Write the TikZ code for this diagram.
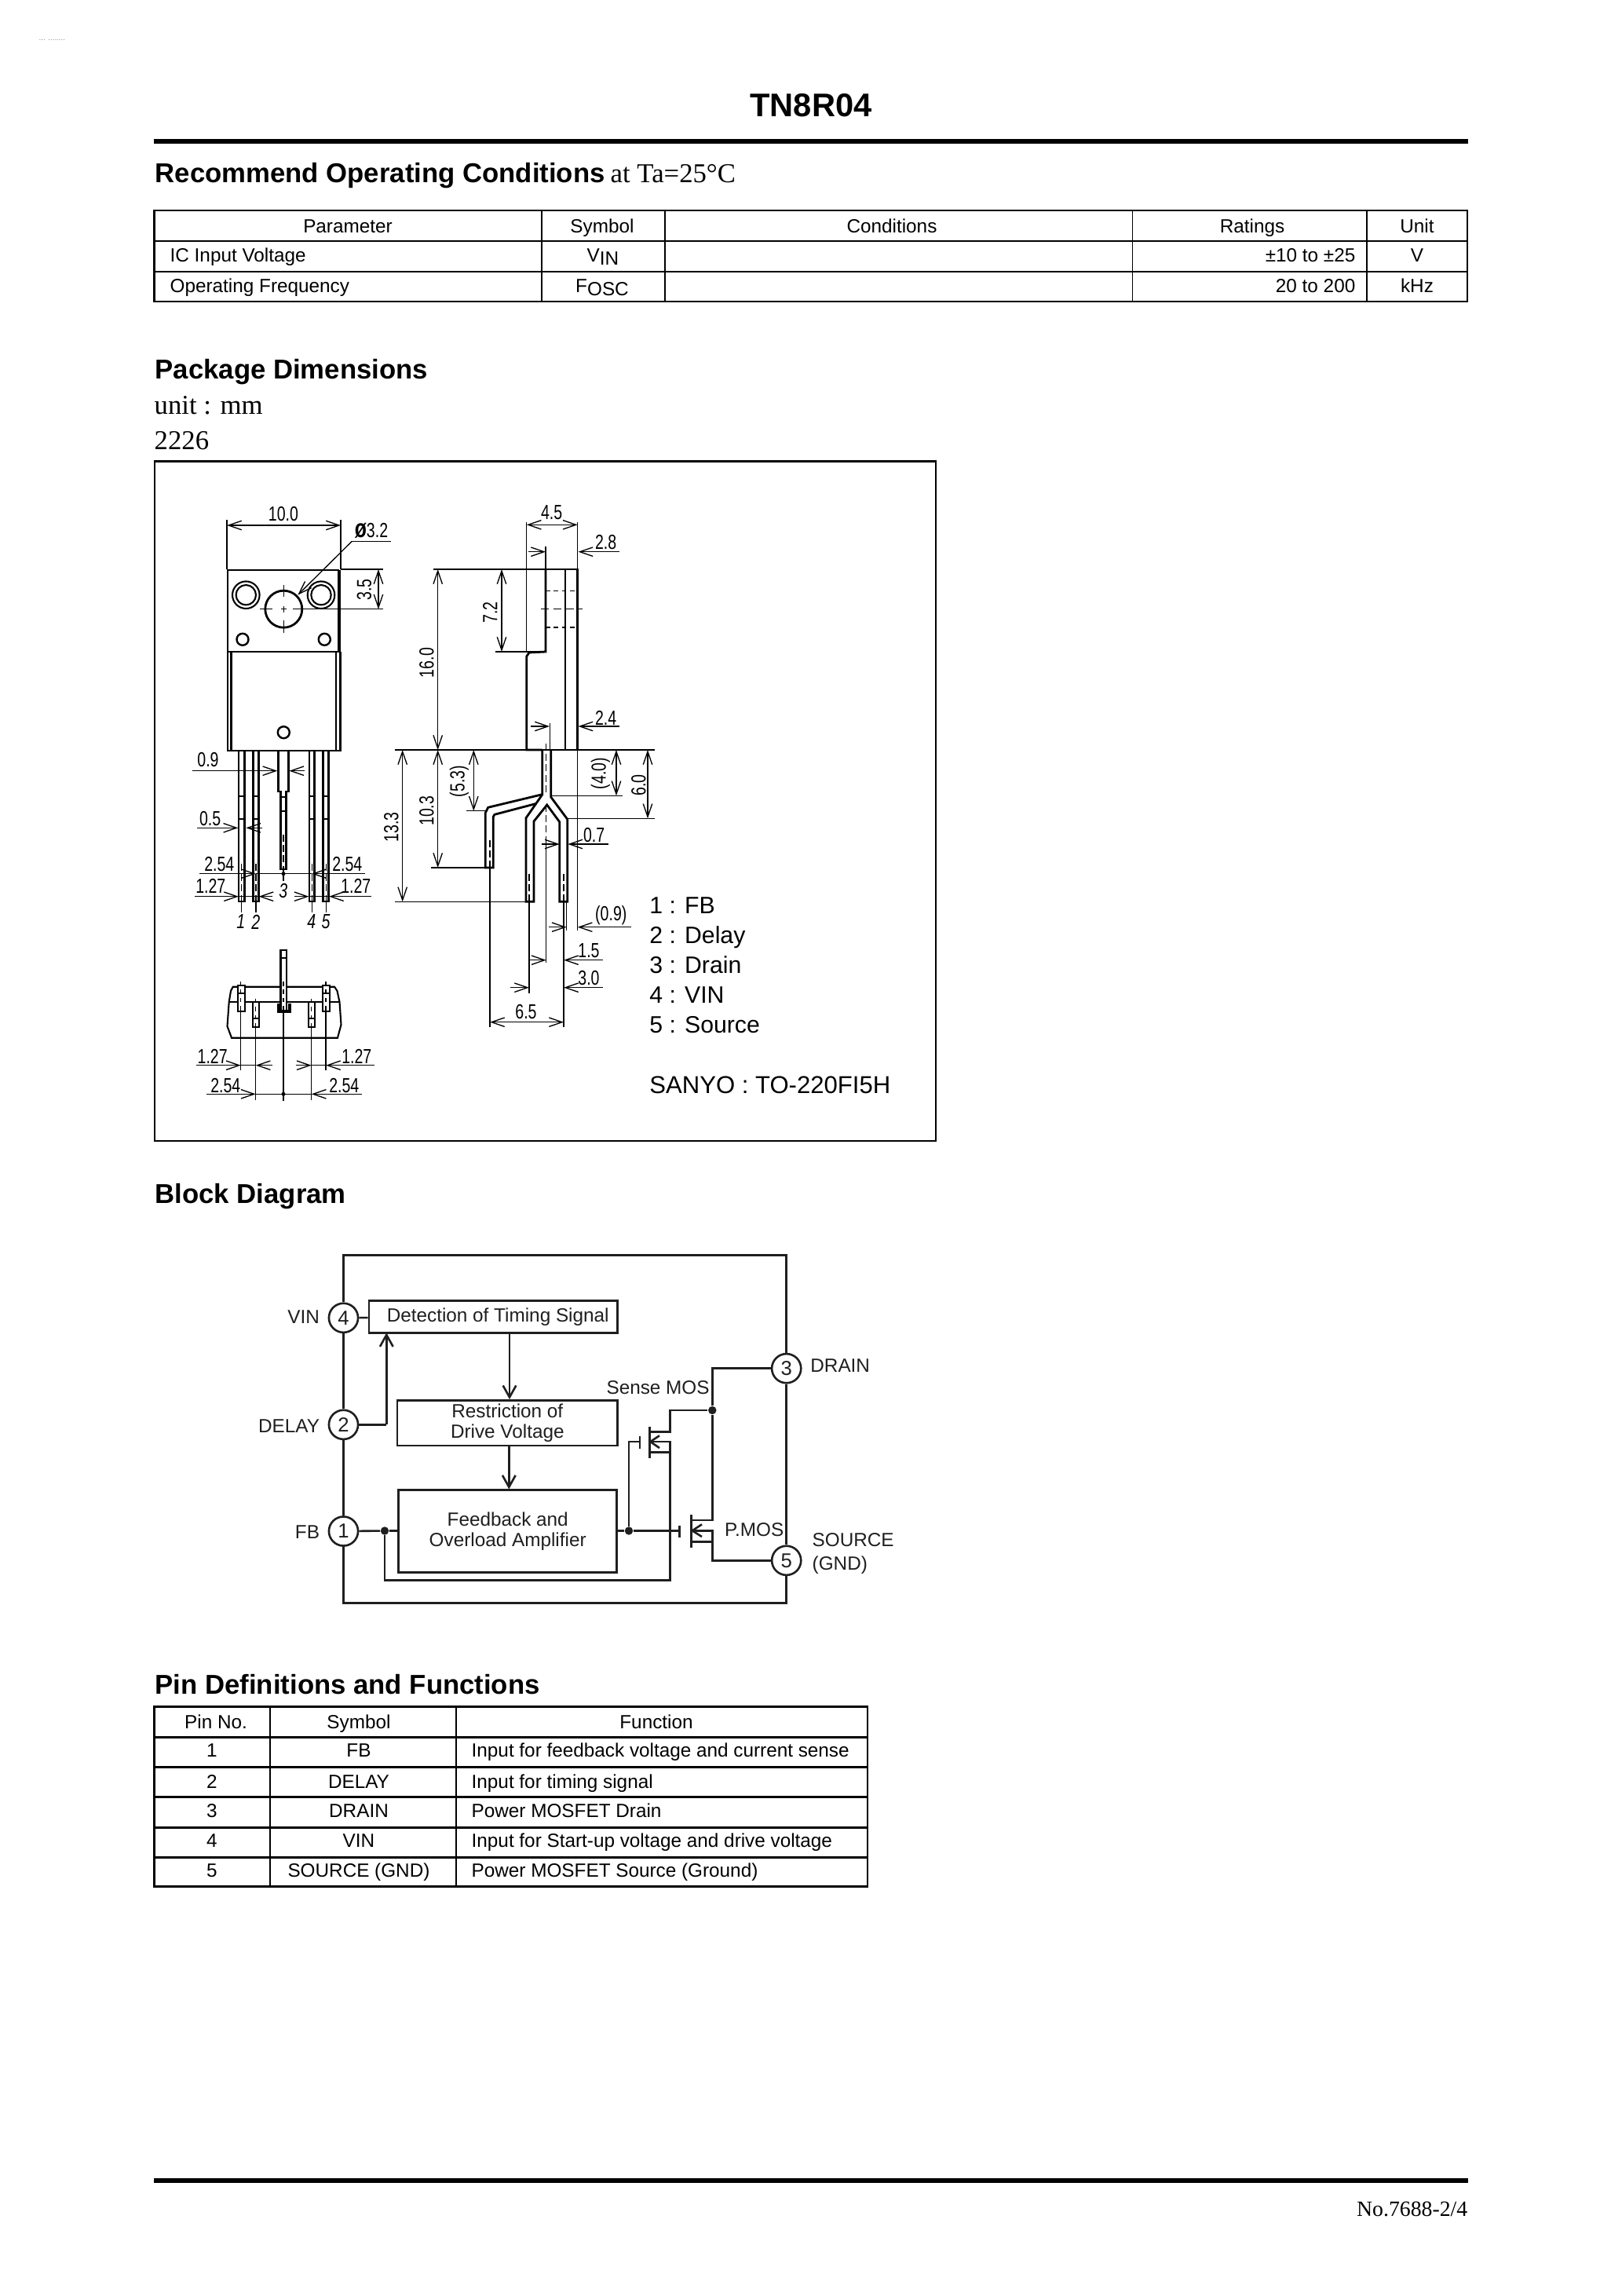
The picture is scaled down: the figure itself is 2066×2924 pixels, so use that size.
\documentclass[tikz,border=0pt]{standalone}
\usepackage{fontspec}
\usetikzlibrary{arrows.meta}
\setmainfont{Liberation Sans}
\newfontfamily\serf{Liberation Serif}
\newfontfamily\dimf[FakeStretch=0.75]{Liberation Sans}
\tikzset{
  >={Straight Barb[length=4.8pt,width=3.3pt]},
  rule/.style={line width=1.5pt},
  hl/.style={line width=0.85pt},
  vl/.style={line width=0.5pt},
  obj/.style={line width=0.8pt,line join=miter},
  thinobj/.style={line width=0.45pt},
  dimn/.style={line width=0.38pt},
  cen/.style={line width=0.4pt,dash pattern=on 2.6pt off 1.2pt},
  dsh/.style={line width=0.4pt,dash pattern=on 1.6pt off 1.4pt},
  dimt/.style={font=\dimf\fontsize{7.5}{8}\selectfont,inner sep=0pt},
  dimi/.style={font=\dimf\itshape\fontsize{7.5}{8}\selectfont,inner sep=0pt},
  head/.style={font=\bfseries\fontsize{10}{12}\selectfont,inner sep=0pt,anchor=base west},
  ser/.style={font=\serf\fontsize{10}{12}\selectfont,inner sep=0pt,anchor=base west},
  tb/.style={font=\fontsize{7}{8}\selectfont,inner sep=0pt,anchor=base},
  tbl/.style={font=\fontsize{7}{8}\selectfont,inner sep=0pt,anchor=base west},
  tbr/.style={font=\fontsize{7}{8}\selectfont,inner sep=0pt,anchor=base east},
  leg/.style={font=\fontsize{8.7}{10}\selectfont,inner sep=0pt,anchor=base west},
  wire/.style={line width=0.75pt,draw=black!88},
  warrow/.style={wire,-{Straight Barb[length=4.3pt,width=4.8pt]}},
  pinc/.style={circle,draw=black!88,line width=0.75pt,fill=white,minimum size=10.7pt,inner sep=0pt,font=\fontsize{7.4}{8}\selectfont,text=black!88},
  blk/.style={rectangle,draw=black!88,line width=0.75pt,inner sep=0pt,align=center,font=\fontsize{7}{7.4}\selectfont,text=black!88},
  lab/.style={font=\fontsize{7}{8}\selectfont,inner sep=0pt,text=black!88},
  jdot/.style={circle,fill=black!88,minimum size=3pt,inner sep=0pt},
}
\begin{document}
\begin{tikzpicture}[x=0.288pt,y=-0.288pt]
\useasboundingbox (0,0) rectangle (2066,2924);
\fill[white] (0,0) rectangle (2066,2924);
% header
\node[font=\fontsize{2.8}{3}\selectfont,text=black!45,inner sep=0pt,anchor=base west] (tiny) at (49,51) {... ........};
\node[font=\bfseries\fontsize{12}{14}\selectfont,inner sep=0pt,anchor=base] (title) at (1033,148) {TN8R04};
\draw[rule] (196,180) -- (1870,180);
\node[head] (h1) at (197,232) {Recommend Operating Conditions};
\node[ser,anchor=base west] (h1b) at (777,232) {at Ta=25°C};
% table 1
\draw[hl] (196.5,268) rectangle (1869,384);
\draw[hl] (196.5,307) -- (1869,307) (196.5,346) -- (1869,346);
\foreach \x in {690,847,1442.5,1741} \draw[vl] (\x,268) -- (\x,384);
\node[tb] (t11) at (443,296) {Parameter};
\node[tb] (t12) at (767,296) {Symbol};
\node[tb] (t13) at (1136,296) {Conditions};
\node[tb] (t14) at (1595,296) {Ratings};
\node[tb] (t15) at (1805,296) {Unit};
\node[tbl] (t21) at (216,333) {IC Input Voltage};
\node[tb] (t22) at (768,333) {V\raisebox{-1.4pt}{IN}};
\node[tbr] (t24) at (1727,333) {±10 to ±25};
\node[tb] (t25) at (1805,333) {V};
\node[tbl] (t31) at (216,372) {Operating Frequency};
\node[tb] (t32) at (767,372) {F\raisebox{-1.4pt}{OSC}};
\node[tbr] (t34) at (1727,372) {20 to 200};
\node[tb] (t35) at (1805,372) {kHz};
% package
\node[head] (h2) at (197,482) {Package Dimensions};
\node[ser,xscale=1] (u1) at (196,527) {unit : mm};
\node[ser] (u2) at (196,572) {2226};
\draw[obj] (197,587.5) rectangle (1192,1453);
% --- front view
\draw[obj] (290,726) rectangle (431,830);
\draw[obj] (433,726) -- (433,830);
\draw[obj] (290,830) -- (290,956) -- (433.5,956) -- (433.5,830);
\draw[obj] (294.5,830) -- (294.5,956) (428,830) -- (428,956);
\draw[obj] (361.3,775.7) circle (23.5);
\draw[dimn] (331,775.7) -- (347,775.7) (358,775.7) -- (365,775.7) (373,775.7) -- (385,775.7);
\draw[dimn] (361.3,745) -- (361.3,760) (361.3,772) -- (361.3,780) (361.3,790) -- (361.3,806);
\foreach \cx in {313.3,409} {\draw[thinobj,line width=0.6pt] (\cx,757.7) circle (17.3) (\cx,757.7) circle (12.7);}
\foreach \cx/\cy in {309/814.3,413.3/814.3,361.3/932.7} \draw[thinobj,line width=0.7pt] (\cx,\cy) circle (7.5);
% front leads
\foreach \a/\b/\c in {304/311.7/307.8,322.7/329.3/326,394/400.7/397.3,411.7/418.7/415.2} {
  \draw[obj] (\a,956) -- (\a,1148) -- (\b,1148) -- (\b,956);
  \draw[thinobj] (\a,1014) -- (\b,1014) (\a,1043) -- (\b,1043);
  \draw[cen] (\c,1100) -- (\c,1148);
  \draw[dimn] (\c,1148) -- (\c,1162);
}
\draw[obj] (354.3,956) -- (354.3,1008) -- (357.7,1008) -- (357.7,1107) -- (364.5,1107) -- (364.5,1008) -- (367.7,1008) -- (367.7,956);
\draw[thinobj] (357.7,1015) -- (364.5,1015) (357.7,1033) -- (364.5,1033);
\draw[cen] (361,1063) -- (361,1107);
\draw[dimn] (361,1107) -- (361,1122);
% front dims
\draw[dimn] (289,662) -- (289,725) (434,662) -- (434,725);
\draw[dimn,<->] (289,669) -- (434,669);
\node[dimt] (d100) at (361,655) {10.0};
\draw[dimn,->] (448.3,689.3) -- (379.3,757.7);
\draw[dimn] (448.3,689.3) -- (498,689.3);
\node[dimt] (d32) at (473,676) {\textbf{\fontsize{9.5}{10}\selectfont ø}3.2};
\draw[dimn] (434,725) -- (487.7,725) (385,775.7) -- (487.7,775.7);
\draw[dimn,<->] (482,725) -- (482,775.7);
\node[dimt,rotate=90] (d35) at (464,751) {3.5};
\draw[dimn,->] (245,981.7) -- (353.3,981.7);
\draw[dimn,->] (388.3,981.7) -- (368.3,981.7);
\node[dimt] (d09) at (265,967.3) {0.9};
\draw[dimn,->] (251,1054.3) -- (303.3,1054.3);
\draw[dimn,->] (334,1054.3) -- (313.3,1054.3);
\node[dimt] (d05) at (267.7,1043) {0.5};
\draw[dimn,->] (254,1112.7) -- (326,1112.7);
\draw[dimn] (326,1112.7) -- (397,1112.7);
\draw[dimn,->] (465,1112.7) -- (397,1112.7);
\fill (361,1112.7) circle (2.5);
\node[dimt] (d254a) at (279.3,1100.7) {2.54};
\node[dimt] (d254b) at (442.3,1100.7) {2.54};
\draw[dimn,->] (248.3,1141.7) -- (304,1141.7);
\draw[dimn] (304,1141.7) -- (329.5,1141.7);
\draw[dimn,->] (347.3,1141.7) -- (329.5,1141.7);
\draw[dimn,->] (375,1141.7) -- (393.5,1141.7);
\draw[dimn] (393.5,1141.7) -- (419,1141.7);
\draw[dimn,->] (472.7,1141.7) -- (419,1141.7);
\node[dimt] (d127a) at (268.3,1128.3) {1.27};
\node[dimt] (d127b) at (453.3,1128.3) {1.27};
\node[dimi] (n3) at (360.7,1135) {3};
\node[dimi] (n1) at (306.7,1174) {1};
\node[dimi] (n2) at (325.7,1174) {2};
\node[dimi] (n4) at (396.7,1174) {4};
\node[dimi] (n5) at (415,1174) {5};
% --- side view
\draw[obj] (695,725) -- (735.7,725) -- (735.7,955) -- (701.7,955);
\draw[obj] (695,725) -- (695,830) -- (674,831) -- (670.7,836) -- (670.7,955) -- (690.7,955);
\draw[obj] (720,725) -- (720,955);
\draw[dsh] (695,752.7) -- (735.7,752.7) (695,799) -- (735.7,799);
\draw[dsh,dash pattern=on 3pt off 1.5pt] (689,775.7) -- (741.7,775.7);
% side leads
\draw[obj] (690.7,955) -- (690.7,1011.7) -- (621.7,1028.3) -- (618.3,1035) -- (618.3,1105) -- (628.3,1105) -- (628.3,1040) -- (630,1037.3) -- (683.3,1023.3);
\draw[obj] (690.7,1012) -- (670,1041.7) -- (670,1148.3) -- (680,1148.3) -- (680,1046) -- (696.7,1025) -- (712.7,1046.7) -- (712.7,1148.3) -- (722.7,1148.3) -- (722.7,1043.3) -- (701.7,1015) -- (701.7,955);
\draw[cen] (695.7,947) -- (695.7,1012);
\draw[cen] (695.7,1025) -- (695.7,1075);
\draw[dimn] (695.7,1075) -- (695.7,1225.7);
\draw[cen] (624,1070) -- (624,1105);
\draw[dimn] (624,1105) -- (624,1308.3);
\draw[cen] (674,1113) -- (674,1148);
\draw[dimn] (674,1148) -- (674,1265);
\draw[cen] (718,1113) -- (718,1148);
\draw[dimn] (718,1148) -- (718,1308.3);
\draw[dimn] (721.7,1148) -- (721.7,1185);
% side dims
\draw[dimn] (670.7,665) -- (670.7,830) (735.7,665) -- (735.7,1185);
\draw[dimn] (695,696) -- (695,725);
\draw[dimn,<->] (670.7,668.3) -- (735.7,668.3);
\node[dimt] (d45) at (702.7,653) {4.5};
\draw[dimn,->] (673,702.7) -- (695,702.7);
\draw[dimn,->] (789,702.7) -- (736.5,702.7);
\node[dimt] (d28) at (771.7,690.7) {2.8};
\draw[dimn] (552.3,725) -- (695,725) (631,830) -- (695,830);
\draw[dimn,<->] (557.7,725) -- (557.7,955);
\node[dimt,rotate=90] (d160) at (543.3,844) {16.0};
\draw[dimn,<->] (639,725) -- (639,830);
\node[dimt,rotate=90] (d72) at (624.3,780) {7.2};
\draw[dimn] (700.7,921) -- (700.7,955);
\draw[dimn,->] (676,925) -- (700,925);
\draw[dimn,->] (789,925) -- (736.5,925);
\node[dimt] (d24) at (771.7,914) {2.4};
\draw[dimn] (503.3,955) -- (834,955);
\draw[dimn,->] (690,1075) -- (712.7,1075);
\draw[dimn,->] (775,1075) -- (723.3,1075);
\node[dimt] (d07) at (756.7,1064) {0.7};
\draw[dimn,->] (699,1180.7) -- (721.7,1180.7);
\draw[dimn,->] (804,1180.7) -- (735.7,1180.7);
\node[dimt] (d09p) at (778.3,1166) {(0.9)};
\draw[dimn,->] (674,1222.7) -- (695.7,1222.7);
\draw[dimn,->] (767.7,1222.7) -- (718,1222.7);
\node[dimt] (d15) at (750,1210.7) {1.5};
\draw[dimn,->] (650,1257.7) -- (674,1257.7);
\draw[dimn,->] (767.7,1257.7) -- (718,1257.7);
\node[dimt] (d30) at (750,1245.7) {3.0};
\draw[dimn,<->] (624,1301.7) -- (718,1301.7);
\node[dimt] (d65) at (670,1288.3) {6.5};
\draw[dimn] (701.7,1013.3) -- (792.7,1013.3) (722.7,1042.3) -- (834,1042.3);
\draw[dimn,<->] (785,955) -- (785,1013.3);
\node[dimt,rotate=90] (d40) at (765,985) {(4.0)};
\draw[dimn,<->] (825,955) -- (825,1042.3);
\node[dimt,rotate=90] (d60) at (813.3,1000) {6.0};
\draw[dimn] (594,1032.7) -- (620,1032.7) (549,1105) -- (618.3,1105) (503.3,1148.3) -- (670,1148.3);
\draw[dimn,<->] (603.3,955) -- (603.3,1032.7);
\node[dimt,rotate=90] (d53) at (585,995) {(5.3)};
\draw[dimn,<->] (557.7,955) -- (557.7,1105);
\node[dimt,rotate=90] (d103) at (543.3,1032.7) {10.3};
\draw[dimn,<->] (512.7,955) -- (512.7,1148.3);
\node[dimt,rotate=90] (d133) at (498.3,1053.3) {13.3};
% legend
\node[leg] (l1) at (826.7,1163.3) {1 : FB};
\node[leg] (l2) at (826.7,1201.7) {2 : Delay};
\node[leg] (l3) at (826.7,1239.3) {3 : Drain};
\node[leg] (l4) at (826.7,1277.3) {4 : VIN};
\node[leg] (l5) at (826.7,1315.3) {5 : Source};
\node[leg,font=\fontsize{8.95}{10}\selectfont] (l6) at (826.7,1392) {SANYO : TO-220FI5H};
% --- bottom view
\draw[thinobj,line width=0.6pt] (296.7,1256.7) -- (426,1256.7) -- (429.5,1262) -- (432.5,1276) -- (434.5,1305) -- (430,1321.7) -- (295,1321.7) -- (289.5,1307) -- (291.7,1276) -- (294,1262) -- cycle;
\draw[thinobj,line width=0.6pt] (291.7,1276) -- (432,1276);
\foreach \a/\b/\c/\t/\u/\m in {303/311.7/306.7/1255/1287.7/1265,411/420/415/1255/1287.7/1265,321.7/330/325.7/1276/1308.3/1297,392.7/401/396.7/1276/1308.3/1297} {
  \filldraw[obj,fill=white,line width=0.65pt] (\a,\t) rectangle (\b,\u);
  \draw[thinobj] (\a,\m) -- (\b,\m);
}
\draw[obj,fill=white] (357.3,1210) rectangle (365,1287.7);
\draw[thinobj] (357.3,1220) -- (365,1220);
\draw[line width=1.1pt] (354.5,1277.5) -- (354.5,1287.7) -- (369,1287.7) -- (369,1277.5);
\foreach \c/\t/\u/\e in {306.7/1250/1287.7/1362.7,415/1250/1287.7/1362.7,325.7/1271.7/1308.3/1401,396.7/1271.7/1308.3/1401,361/1250/1287.7/1401.7} {
  \draw[dsh] (\c,\t) -- (\c,\u);
  \draw[dimn] (\c,\u) -- (\c,\e);
}
\draw[dimn,->] (250,1356.7) -- (306.7,1356.7);
\draw[dimn] (306.7,1356.7) -- (325.7,1356.7);
\draw[dimn,->] (346.7,1356.7) -- (325.7,1356.7);
\draw[dimn,->] (376.7,1356.7) -- (396.7,1356.7);
\draw[dimn] (396.7,1356.7) -- (415,1356.7);
\draw[dimn,->] (476.7,1356.7) -- (415,1356.7);
\node[dimt] (d127c) at (270.7,1345.7) {1.27};
\node[dimt] (d127d) at (454.3,1345.7) {1.27};
\draw[dimn,->] (263.3,1393.3) -- (325.7,1393.3);
\draw[dimn] (325.7,1393.3) -- (396.7,1393.3);
\draw[dimn,->] (460.7,1393.3) -- (396.7,1393.3);
\fill (361,1393.3) circle (2.5);
\node[dimt] (d254c) at (287.3,1382.3) {2.54};
\node[dimt] (d254d) at (438.3,1382.3) {2.54};
% block diagram
\node[head] (h3) at (197,1532) {Block Diagram};
\coordinate (TL) at (437.5,1598.3);
\coordinate (TR) at (1001.7,1598.3);
\coordinate (BL) at (437.5,2041.7);
\coordinate (BR) at (1001.7,2041.7);
\node[pinc] (p4) at (437.5,1678.3) {4};
\node[pinc] (p2) at (437.5,1814.3) {2};
\node[pinc] (p1) at (437.5,1950) {1};
\node[pinc] (p3) at (1001.7,1742.7) {3};
\node[pinc] (p5) at (1001.7,1987.3) {5};
\node[blk,minimum width=91.2pt,minimum height=11.7pt] (det) at (628.3,1677) {\raisebox{-0.5pt}{\hspace{3.4pt}Detection of Timing Signal}};
\node[blk,minimum width=80.8pt,minimum height=16.6pt] (res) at (646.3,1812.2) {\raisebox{-0.5pt}{Restriction of}\\\raisebox{-0.5pt}{Drive Voltage}};
\node[blk,minimum width=80.1pt,minimum height=30.1pt] (fba) at (646.7,1950) {Feedback and\\Overload Amplifier};
\draw[wire] (p4) -- (TL) -- (TR) -- (p3) -- (p5) -- (BR) -- (BL) -- (p1) -- (p2) -- (p4);
\draw[wire] (p4) -- (det);
\coordinate (a1) at (492.3,1814.3);
\coordinate (a2) at (492.3,1697.3);
\draw[wire] (p2) -- (a1);
\draw[warrow] (a1) -- (a2);
\draw[warrow] (det.south -| 649,1700) -- (res.north -| 649,1700);
\draw[warrow] (res.south -| 648.3,1900) -- (fba.north -| 648.3,1900);
\node[jdot] (j1) at (490,1949.5) {};
\node[jdot] (j2) at (801,1949.5) {};
\node[jdot] (j3) at (907.3,1796) {};
\draw[wire] (p1) -- (j1) -- (fba.west |- j1);
% sense return
\coordinate (s1) at (490,2012.3);
\coordinate (s2) at (853.3,2012.3);
\coordinate (s3) at (853.3,1836);
\coordinate (s4) at (827.3,1836);
\coordinate (s5) at (853.3,1849.3);
\coordinate (s6) at (827.3,1849.3);
\draw[wire] (j1) -- (s1) -- (s2) -- (s3) -- (s4);
\draw[wire] (s5) -- (s6);
% sense MOS
\coordinate (sg1) at (815,1829.3);
\coordinate (sg2) at (815,1845);
\coordinate (sgc) at (815,1836);
\coordinate (sgl) at (801,1836);
\coordinate (sc1) at (827.3,1816.7);
\coordinate (sc2) at (827.3,1857.3);
\coordinate (sd1) at (827.3,1823.3);
\coordinate (sd2) at (853.3,1823.3);
\coordinate (sd3) at (853.3,1796);
\draw[wire] (sg1) -- (sg2) (sc1) -- (sc2);
\draw[wire] (j2) -- (sgl) -- (sgc);
\draw[wire] (sd1) -- (sd2) -- (sd3) -- (j3);
\draw[wire] (840,1828.3) -- (828.3,1836) -- (840,1844);
% P MOS
\coordinate (pg1) at (865.7,1942.7);
\coordinate (pg2) at (865.7,1957.7);
\coordinate (pgc) at (865.7,1949.5);
\coordinate (pc1) at (880.7,1929.3);
\coordinate (pc2) at (880.7,1970.7);
\coordinate (pd1) at (880.7,1936);
\coordinate (pd2) at (907.3,1936);
\coordinate (pd3) at (907.3,1742.7);
\coordinate (ps1) at (880.7,1949.3);
\coordinate (ps2) at (907.3,1949.3);
\coordinate (ps3) at (880.7,1963.3);
\coordinate (ps4) at (907.3,1963.3);
\coordinate (ps5) at (907.3,1987.3);
\draw[wire] (pg1) -- (pg2) (pc1) -- (pc2);
\draw[wire] (fba.east |- j2) -- (j2) -- (pgc);
\draw[wire] (pd1) -- (pd2) -- (j3) -- (pd3) -- (p3);
\draw[wire] (ps1) -- (ps2) -- (ps5) -- (p5);
\draw[wire] (ps3) -- (ps4);
\draw[wire] (894,1941.3) -- (881.7,1949.3) -- (894,1957);
\node[lab,anchor=base east] (vin) at (407.7,1685.7) {VIN};
\node[lab,anchor=base east] (del) at (407.7,1824.3) {DELAY};
\node[lab,anchor=base east] (fbl) at (407.7,1959) {FB};
\node[lab,anchor=base east] (smos) at (904.3,1775) {Sense MOS};
\node[lab,anchor=base west] (pmos) at (922.3,1956.7) {P.MOS};
\node[lab,anchor=base west] (drn) at (1031.7,1747.7) {DRAIN};
\node[lab,anchor=base west] (srcl) at (1034,1969.3) {SOURCE};
\node[lab,anchor=base west] (gnd) at (1034,1999.3) {(GND)};
% pin table
\node[head] (h4) at (197,2157) {Pin Definitions and Functions};
\draw[hl] (196.5,2173) rectangle (1105,2402);
\foreach \y in {2212,2250,2288,2327,2365} \draw[hl] (196.5,\y) -- (1105,\y);
\foreach \x in {344,581} \draw[vl,line width=0.6pt] (\x,2173) -- (\x,2402);
\node[tb] (q0a) at (275,2201) {Pin No.};
\node[tb] (q0b) at (457,2201) {Symbol};
\node[tb] (q0c) at (836,2201) {Function};
\node[tb] (q1a) at (270,2237) {1};
\node[tb] (q1b) at (457,2237) {FB};
\node[tbl] (q1c) at (600,2237) {Input for feedback voltage and current sense};
\node[tb] (q2a) at (270,2277) {2};
\node[tb] (q2b) at (457,2277) {DELAY};
\node[tbl] (q2c) at (600,2277) {Input for timing signal};
\node[tb] (q3a) at (270,2314) {3};
\node[tb] (q3b) at (457,2314) {DRAIN};
\node[tbl] (q3c) at (600,2314) {Power MOSFET Drain};
\node[tb] (q4a) at (270,2352) {4};
\node[tb] (q4b) at (457,2352) {VIN};
\node[tbl] (q4c) at (600,2352) {Input for Start-up voltage and drive voltage};
\node[tb] (q5a) at (270,2390) {5};
\node[tb] (q5b) at (457,2390) {SOURCE (GND)};
\node[tbl] (q5c) at (600,2390) {Power MOSFET Source (Ground)};
% footer
\draw[rule] (196,2777) -- (1870,2777);
\node[font=\serf\fontsize{8}{10}\selectfont,inner sep=0pt,anchor=base east] (foot) at (1870,2822) {No.7688-2/4};
\end{tikzpicture}
\end{document}
